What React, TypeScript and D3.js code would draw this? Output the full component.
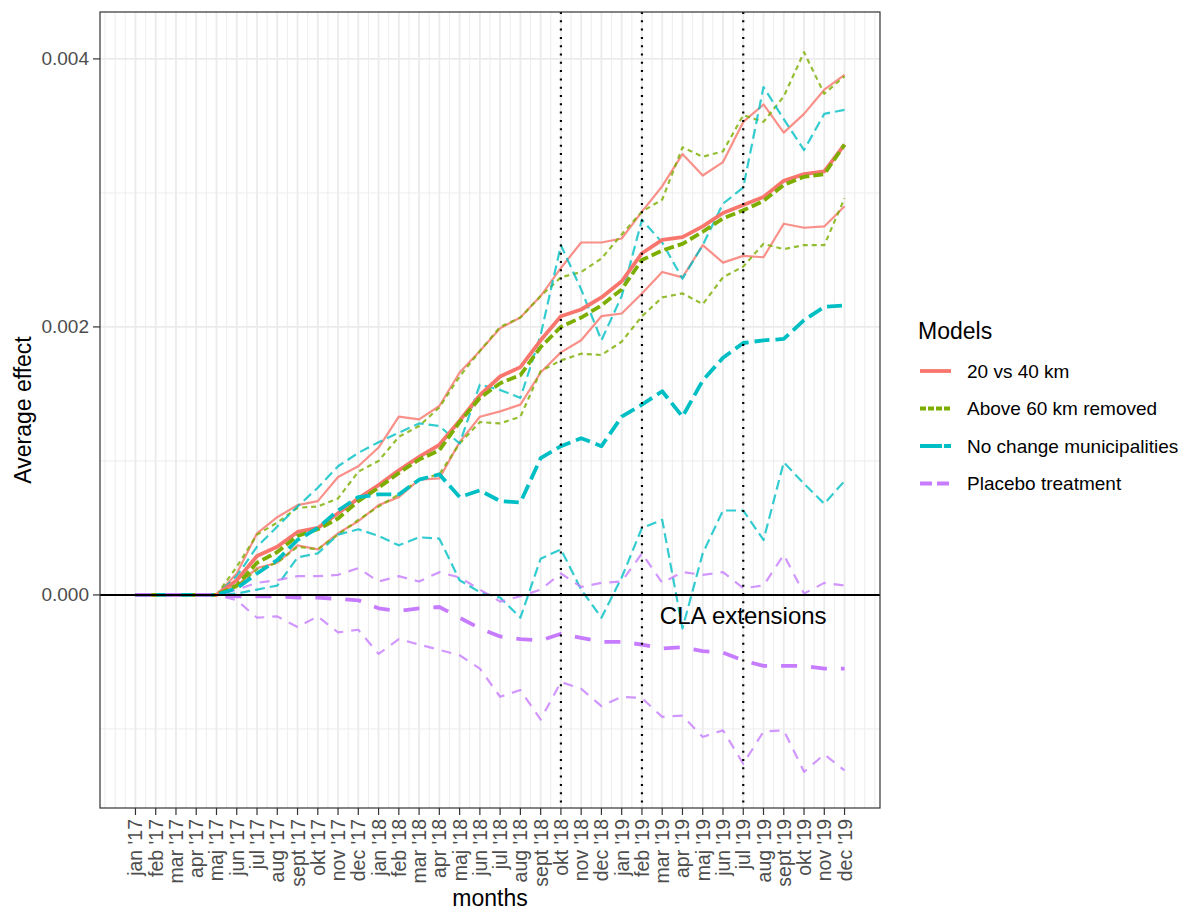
import React from 'react';
import * as d3 from 'd3';

// month labels (jan '17 .. dec '19)
const monthNames = ['jan', 'feb', 'mar', 'apr', 'maj', 'jun', 'jul', 'aug', 'sept', 'okt', 'nov', 'dec'];
const months: string[] = ['17', '18', '19'].flatMap(yr => monthNames.map(m => `${m} '${yr}`));

const yTicks = [0, 0.002, 0.004];
const yMinor = [-0.001, 0.001, 0.003];
const claMonths = [21, 25, 30]; // okt '18, feb '19, jul '19

const lead = [0, 0, 0, 0, 0];

// 20 vs 40 km
const redEst = [...lead, 0.00011, 0.00029, 0.00036, 0.00047, 0.0005, 0.00061, 0.00072, 0.00082, 0.00093, 0.00103, 0.00112, 0.0013, 0.00149, 0.00163, 0.0017, 0.0019, 0.00208, 0.00213, 0.00222, 0.00234, 0.00255, 0.00265, 0.00267, 0.00275, 0.00285, 0.00291, 0.00297, 0.00309, 0.00314, 0.00316, 0.00336];
const redHi = [...lead, 0.00016, 0.00046, 0.00058, 0.00067, 0.0007, 0.00088, 0.00096, 0.0011, 0.00133, 0.00131, 0.00141, 0.00166, 0.00182, 0.00199, 0.00207, 0.00223, 0.00244, 0.00263, 0.00263, 0.00266, 0.00286, 0.00305, 0.00329, 0.00313, 0.00323, 0.00353, 0.00366, 0.00345, 0.00359, 0.00377, 0.00388];
const redLo = [...lead, 0.00007, 0.0002, 0.00024, 0.00037, 0.00034, 0.00046, 0.00055, 0.00067, 0.00073, 0.00086, 0.00087, 0.00114, 0.00133, 0.00137, 0.00142, 0.00166, 0.00181, 0.0019, 0.00208, 0.0021, 0.00225, 0.00241, 0.00237, 0.00261, 0.00248, 0.00253, 0.00252, 0.00277, 0.00274, 0.00275, 0.0029];

// Above 60 km removed
const greenEst = [...lead, 0.00007, 0.00024, 0.00032, 0.00044, 0.00049, 0.00057, 0.0007, 0.0008, 0.00091, 0.00101, 0.00108, 0.00129, 0.00147, 0.00158, 0.00164, 0.00185, 0.002, 0.00207, 0.00216, 0.00228, 0.0025, 0.00257, 0.00262, 0.00271, 0.00281, 0.00287, 0.00294, 0.00306, 0.00312, 0.00314, 0.00336];
const greenHi = [...lead, 0.00021, 0.00045, 0.00054, 0.00065, 0.00066, 0.00072, 0.00092, 0.001, 0.00118, 0.00126, 0.0014, 0.00163, 0.00182, 0.002, 0.00207, 0.00223, 0.00237, 0.00241, 0.00251, 0.00269, 0.00286, 0.00295, 0.00334, 0.00327, 0.00331, 0.00358, 0.00353, 0.00372, 0.00405, 0.00374, 0.00387];
const greenLo = [...lead, 0.00006, 0.00019, 0.00024, 0.00036, 0.00034, 0.00045, 0.00056, 0.00066, 0.00075, 0.00086, 0.0009, 0.00113, 0.00129, 0.00128, 0.00133, 0.00167, 0.00175, 0.0018, 0.00179, 0.00189, 0.00208, 0.00222, 0.00225, 0.00217, 0.00237, 0.00245, 0.00262, 0.00258, 0.00261, 0.00261, 0.00296];

// No change municipalities
const cyanEst = [...lead, 0.00005, 0.00016, 0.00026, 0.00041, 0.0005, 0.00063, 0.00073, 0.00075, 0.00075, 0.00086, 0.0009, 0.00073, 0.00078, 0.0007, 0.00069, 0.00102, 0.00111, 0.00117, 0.00111, 0.00133, 0.00142, 0.00152, 0.00133, 0.0016, 0.00177, 0.00188, 0.0019, 0.00191, 0.00205, 0.00215, 0.00216];
const cyanHi = [...lead, 0.00014, 0.00036, 0.00051, 0.00066, 0.0008, 0.00096, 0.00106, 0.00114, 0.00121, 0.00128, 0.00126, 0.00113, 0.00157, 0.00153, 0.00147, 0.00194, 0.00261, 0.00228, 0.0019, 0.00223, 0.0028, 0.00263, 0.00236, 0.00261, 0.00292, 0.00304, 0.00379, 0.00355, 0.00332, 0.00359, 0.00362];
const cyanLo = [...lead, 0.00001, 0.00004, 0.00007, 0.00028, 0.00031, 0.00045, 0.00049, 0.00044, 0.00037, 0.00043, 0.00042, 0.00011, 0.00002, -0.00002, -0.00017, 0.00027, 0.00034, 0.00004, -0.00017, 0.00013, 0.0005, 0.00056, -0.00025, 0.00031, 0.00063, 0.00063, 0.00041, 0.00099, 0.00083, 0.00068, 0.00085];

// Placebo treatment
const purpleEst = [...lead, -0.00001, -0.00001, -0.00001, -0.00002, -0.00002, -0.00003, -0.00004, -0.0001, -0.00012, -0.0001, -0.00009, -0.00017, -0.00025, -0.00031, -0.00033, -0.00034, -0.00029, -0.00032, -0.00035, -0.00035, -0.00037, -0.0004, -0.00039, -0.00042, -0.00043, -0.00049, -0.00053, -0.00053, -0.00053, -0.00055, -0.00055];
const purpleHi = [...lead, 0.00004, 0.00009, 0.00011, 0.00014, 0.00014, 0.00015, 0.0002, 0.0001, 0.00014, 0.0001, 0.00017, 0.00013, 0.00004, -0.00005, -0.00001, 0.00004, 0.00016, 0.00006, 0.00009, 0.0001, 0.00031, 0.00009, 0.00017, 0.00015, 0.00017, 0.00005, 0.00007, 0.0003, 0.00001, 0.00009, 0.00007];
const purpleLo = [...lead, -0.00004, -0.00017, -0.00016, -0.00024, -0.00016, -0.00028, -0.00026, -0.00044, -0.00033, -0.00037, -0.00041, -0.00045, -0.00055, -0.00076, -0.00071, -0.00093, -0.00065, -0.0007, -0.00083, -0.00076, -0.00077, -0.00091, -0.0009, -0.00106, -0.00101, -0.00126, -0.00102, -0.00101, -0.00132, -0.00119, -0.00131];

const models = [
  { name: '20 vs 40 km', color: '#F8766D', est: redEst, hi: redHi, lo: redLo, dashThick: 'none', dashThin: 'none', legendDash: 'none' },
  { name: 'Above 60 km removed', color: '#7CAE00', est: greenEst, hi: greenHi, lo: greenLo, dashThick: '10,4', dashThin: '5,4', legendDash: '6,2' },
  { name: 'No change municipalities', color: '#00BFC4', est: cyanEst, hi: cyanHi, lo: cyanLo, dashThick: '15,6', dashThin: '10,5', legendDash: '22,2' },
  { name: 'Placebo treatment', color: '#C77CFF', est: purpleEst, hi: purpleHi, lo: purpleLo, dashThick: '16,14', dashThin: '10,8', legendDash: '12,5' },
];

const W = 1179;
const H = 913;
const panel = { left: 100, right: 880, top: 12, bottom: 808 };
const font = '"Liberation Sans", Arial, Helvetica, sans-serif';

export default function App() {
  const x = d3.scaleLinear().domain([-1.75, months.length - 1 + 1.75]).range([panel.left, panel.right]);
  const y = d3.scaleLinear().domain([-0.00159, 0.00435]).range([panel.bottom, panel.top]);

  const line = d3.line<number>()
    .x((_, i) => x(i))
    .y(d => y(d));

  const minorX: number[] = [];
  for (let v = -1.5; v <= months.length + 0.5; v += 0.5) {
    if (!(Number.isInteger(v) && v >= 0 && v < months.length)) minorX.push(v);
  }

  return (
    <svg width={W} height={H} style={{ position: 'absolute', left: 0, top: 0, background: '#fff' }} fontFamily={font}>
      <rect x={0} y={0} width={W} height={H} fill="#fff" />
      <defs>
        <clipPath id="panel-clip">
          <rect x={panel.left} y={panel.top} width={panel.right - panel.left} height={panel.bottom - panel.top} />
        </clipPath>
      </defs>

      {/* grid */}
      <g stroke="#EBEBEB">
        {minorX.filter(v => x(v) > panel.left && x(v) < panel.right).map(v => (
          <line key={`mx${v}`} x1={x(v)} x2={x(v)} y1={panel.top} y2={panel.bottom} strokeWidth={0.9} />
        ))}
        {yMinor.map(v => (
          <line key={`my${v}`} x1={panel.left} x2={panel.right} y1={y(v)} y2={y(v)} strokeWidth={0.9} />
        ))}
        {months.map((m, i) => (
          <line key={`gx${m}`} x1={x(i)} x2={x(i)} y1={panel.top} y2={panel.bottom} strokeWidth={1.8} />
        ))}
        {yTicks.map(v => (
          <line key={`gy${v}`} x1={panel.left} x2={panel.right} y1={y(v)} y2={y(v)} strokeWidth={1.8} />
        ))}
      </g>

      <g clipPath="url(#panel-clip)" fill="none" strokeLinejoin="round">
        {models.map(m => (
          <g key={`b${m.name}`} stroke={m.color} strokeOpacity={0.8} strokeWidth={2.2}>
            <path d={line(m.hi) ?? ''} strokeDasharray={m.dashThin} />
            <path d={line(m.lo) ?? ''} strokeDasharray={m.dashThin} />
          </g>
        ))}
        {models.map(m => (
          <path key={`e${m.name}`} d={line(m.est) ?? ''} stroke={m.color} strokeWidth={3.8} strokeDasharray={m.dashThick} />
        ))}
        <line x1={panel.left} x2={panel.right} y1={y(0)} y2={y(0)} stroke="#000" strokeWidth={2} />
        {claMonths.map(i => (
          <line key={`cla${i}`} x1={x(i)} x2={x(i)} y1={panel.top} y2={panel.bottom} stroke="#000" strokeWidth={2.2} strokeDasharray="2,6.3" />
        ))}
        <text x={x(30)} y={y(-0.00015)} textAnchor="middle" dominantBaseline="central" fontSize={24} fill="#000">CLA extensions</text>
      </g>

      {/* panel border */}
      <rect x={panel.left} y={panel.top} width={panel.right - panel.left} height={panel.bottom - panel.top} fill="none" stroke="#333333" strokeWidth={1.2} />

      {/* y axis */}
      <g>
        {yTicks.map(v => (
          <g key={`yt${v}`}>
            <line x1={panel.left - 7} x2={panel.left} y1={y(v)} y2={y(v)} stroke="#333333" strokeWidth={1.2} />
            <text x={panel.left - 11} y={y(v)} textAnchor="end" dominantBaseline="central" fontSize={19} fill="#4D4D4D">{v.toFixed(3)}</text>
          </g>
        ))}
      </g>

      {/* x axis */}
      <g>
        {months.map((m, i) => (
          <g key={`xt${m}`}>
            <line x1={x(i)} x2={x(i)} y1={panel.bottom} y2={panel.bottom + 7} stroke="#333333" strokeWidth={1.2} />
            <text transform={`translate(${x(i)},${panel.bottom + 11}) rotate(-90)`} textAnchor="end" dominantBaseline="central" fontSize={19.5} fill="#4D4D4D">{m}</text>
          </g>
        ))}
      </g>

      <text x={(panel.left + panel.right) / 2} y={906} textAnchor="middle" fontSize={23} fill="#000">months</text>
      <text transform={`translate(31,${(panel.top + panel.bottom) / 2}) rotate(-90)`} textAnchor="middle" fontSize={23} fill="#000">Average effect</text>

      {/* legend */}
      <g>
        <text x={918} y={339} fontSize={23} fill="#000">Models</text>
        {models.map((m, i) => {
          const ly = 371 + i * 37.5;
          return (
            <g key={`lg${m.name}`}>
              <line x1={920} x2={951} y1={ly} y2={ly} stroke={m.color} strokeWidth={3.8} strokeDasharray={m.legendDash} />
              <text x={967} y={ly} dominantBaseline="central" fontSize={19} fill="#000">{m.name}</text>
            </g>
          );
        })}
      </g>
    </svg>
  );
}
